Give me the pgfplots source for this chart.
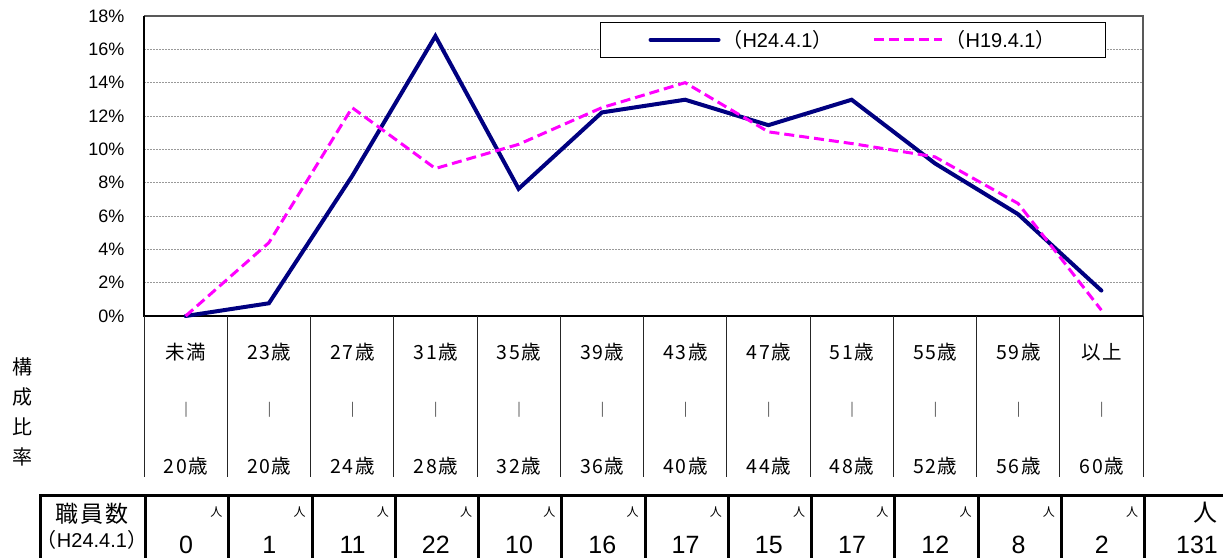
\documentclass[border=0pt]{standalone}
\usepackage{pgfplots}
\usepackage{pgfplotstable}
\pgfplotsset{compat=1.18}
\usepackage{fontspec}
\setmainfont{Liberation Sans}
\newfontfamily\cjk{Noto Sans CJK JP}
\newfontfamily\cjkw[LetterSpace=8]{Noto Sans CJK JP}
\definecolor{navy}{RGB}{0,0,128}
\definecolor{mag}{RGB}{255,0,255}

\pgfplotstableread{
x h24 h19
0 0.000 0.00
1 0.763 4.40
2 8.397 12.50
3 16.794 8.85
4 7.634 10.30
5 12.214 12.50
6 12.977 14.00
7 11.450 11.05
8 12.977 10.35
9 9.160 9.55
10 6.107 6.75
11 1.527 0.35
}\agedata

\begin{document}
\begin{tikzpicture}
\useasboundingbox (0,0) rectangle (1223bp,-558bp);
\begin{axis}[
  at={(144bp,-316bp)}, anchor=south west,
  scale only axis, width=999bp, height=300bp,
  xmin=-0.5, xmax=11.5, ymin=0, ymax=18,
  xtick=\empty,
  ytick={0,2,...,18},
  yticklabels={0\%,2\%,4\%,6\%,8\%,10\%,12\%,14\%,16\%,18\%},
  yticklabel style={font=\fontsize{18bp}{20bp}\selectfont, xshift=-16bp},
  major tick length=0pt,
  ymajorgrids,
  grid style={gray!80, dash pattern=on 2bp off 1bp, line width=0.8bp},
  axis line style={draw=none},
  clip=false,
  legend columns=2,
  legend cell align=left,
  legend image code/.code={\draw[#1] (0bp,0bp) -- (68bp,0bp);},
  legend style={at={(0.4565,0.98)}, anchor=north west, draw=black, line width=1bp,
    inner xsep=48bp, inner ysep=6bp,
    font=\fontsize{20bp}{22bp}\selectfont,
    /tikz/every even column/.append style={column sep=38bp}},
]
\draw[gray!70!black, line width=2.5bp] (rel axis cs:0,1) -- (rel axis cs:1,1) -- (rel axis cs:1,0);
\draw[black, line width=1.5bp] (rel axis cs:0,1) -- (rel axis cs:0,0) -- (rel axis cs:1,0);
\addplot[navy, line width=4bp, line cap=round] table[x=x, y=h24] {\agedata};
\addlegendentry{{\cjk （}H24.4.1{\cjk ）}}
\addplot[mag, line width=3bp, dash pattern=on 10bp off 5bp] table[x=x, y=h19] {\agedata};
\addlegendentry{{\cjk （}H19.4.1{\cjk ）}}
\end{axis}

% category separators
\foreach \k in {0,...,12} {
  \draw[black!85, line width=1bp] ({144bp+83.25bp*\k},-316bp) -- ({144bp+83.25bp*\k},-477bp);
}
% category labels
\foreach \t/\b [count=\i from 0] in {未満/20歳, 23歳/20歳, 27歳/24歳, 31歳/28歳, 35歳/32歳, 39歳/36歳, 43歳/40歳, 47歳/44歳, 51歳/48歳, 55歳/52歳, 59歳/56歳, 以上/60歳} {
  \node[font=\cjkw\fontsize{19.5bp}{21bp}\selectfont] at ({186bp+83.25bp*\i},-352bp) {\t};
  \node[font=\cjk\fontsize{15bp}{16bp}\selectfont] at ({186bp+83.25bp*\i},-410bp) {｜};
  \node[font=\cjkw\fontsize{19.5bp}{21bp}\selectfont] at ({186bp+83.25bp*\i},-466bp) {\b};
}
% y label
\node[font=\cjk\fontsize{20bp}{30bp}\selectfont, align=center] at (22bp,-412bp) {構\\成\\比\\率};

% table
\draw[black, line width=3.5bp] (40bp,-495.5bp) -- (1223bp,-495.5bp);
\draw[black, line width=3bp] (40bp,-494bp) -- (40bp,-560bp);
\foreach \k in {0,...,12} {
  \draw[black, line width=3bp] ({145.5bp+83.25bp*\k},-494bp) -- ({145.5bp+83.25bp*\k},-560bp);
}
\node[font=\cjkw\fontsize{23bp}{25bp}\selectfont] at (92bp,-514bp) {職員数};
\node[font=\fontsize{20bp}{22bp}\selectfont, inner sep=0pt] at (92bp,-540bp) {{\cjk （}H24.4.1{\cjk ）}};
\foreach \n [count=\i from 0] in {0,1,11,22,10,16,17,15,17,12,8,2} {
  \node[font=\cjk\fontsize{12bp}{13bp}\selectfont] at ({144bp+83.25bp*(\i+1)-11bp},-512bp) {人};
  \node[font=\fontsize{25bp}{27bp}\selectfont, inner sep=0pt] at ({186bp+83.25bp*\i},-545bp) {\n};
}
\node[font=\cjk\fontsize{24bp}{26bp}\selectfont] at (1205bp,-513bp) {人};
\node[font=\fontsize{25bp}{27bp}\selectfont, inner sep=0pt] at (1197bp,-545bp) {131};
\end{tikzpicture}
\end{document}
